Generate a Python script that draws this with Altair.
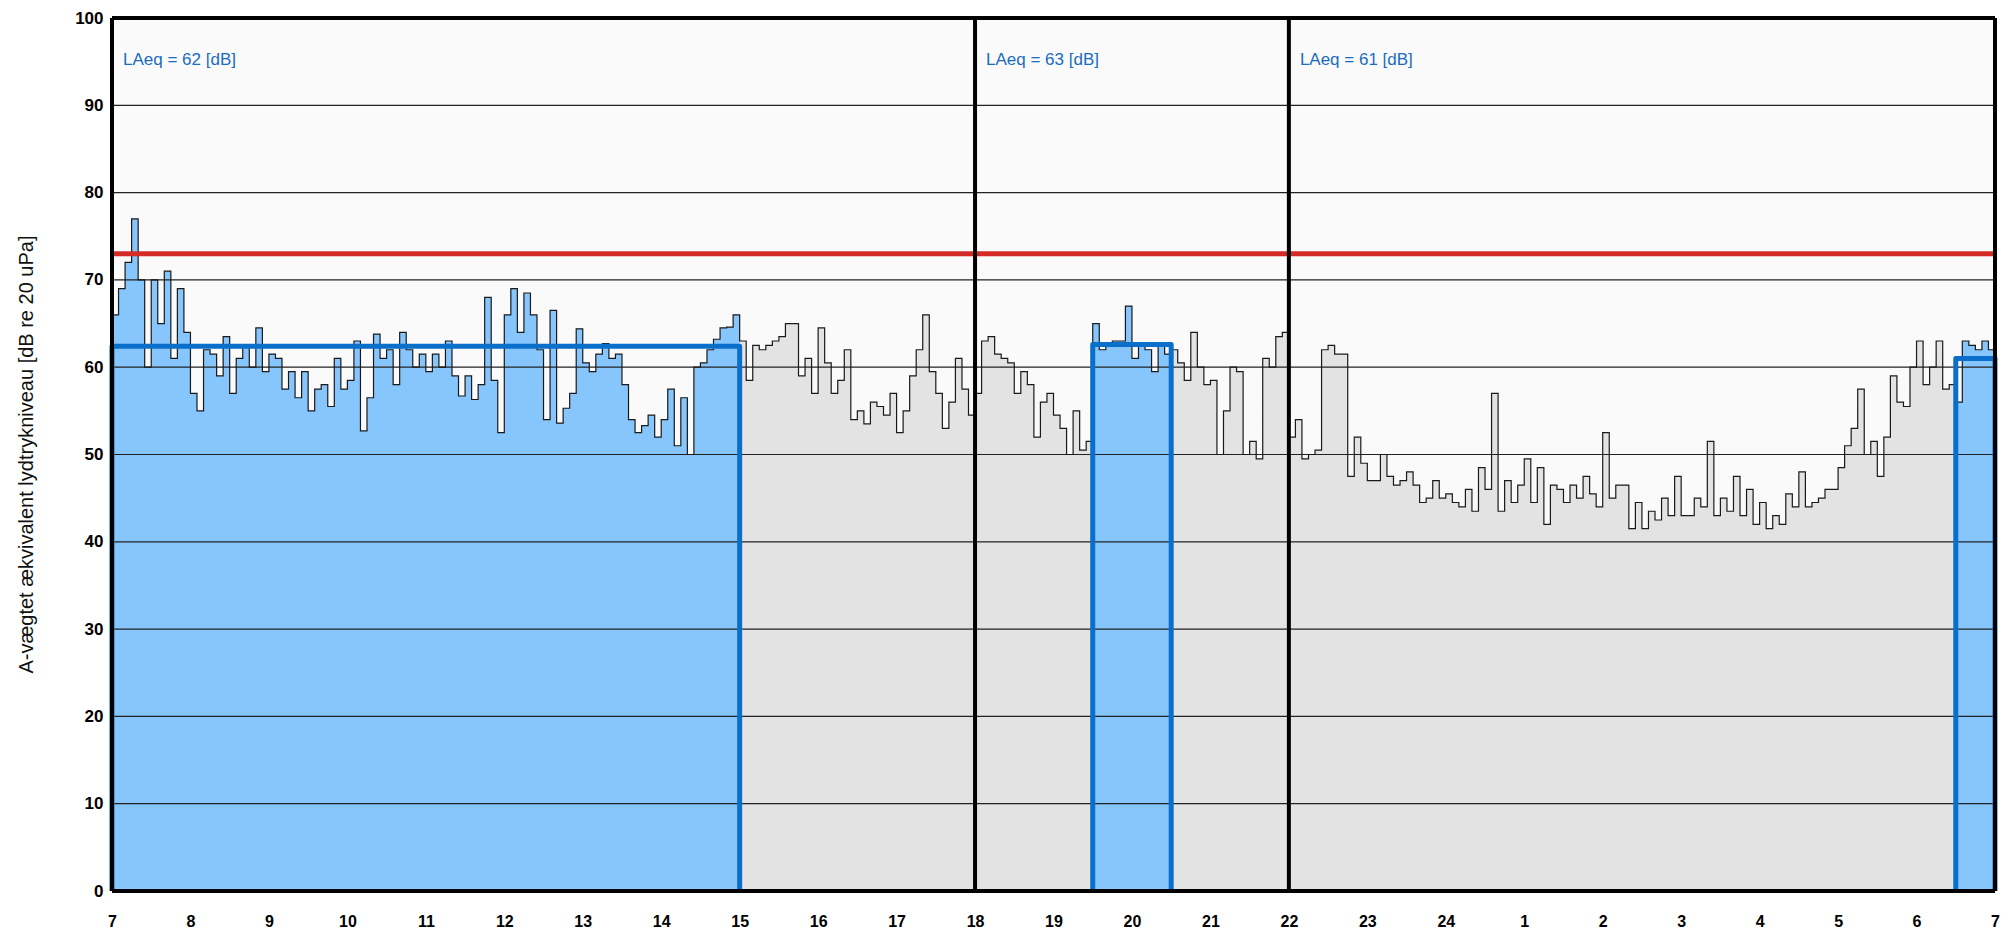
import altair as alt
import pandas as pd

# 5-minute A-weighted levels from 07:00 to 07:00 next day
levels = [
    66, 69, 72, 77, 70, 60, 70, 65, 71, 61, 69, 64,
    57, 55, 62, 61.5, 59, 63.5, 57, 61, 62.5, 60, 64.5, 59.5,
    61.5, 61, 57.5, 59.5, 56.5, 59.5, 55, 57.5, 58, 55.5, 61, 57.5,
    58.5, 63, 52.7, 56.5, 63.8,
    61, 62, 58, 64, 62, 60, 61.5,
    59.5, 61.5, 60, 63, 59, 56.7, 59, 56.3, 58, 68, 58.5, 52.5,
    66, 69, 64, 68.5, 66, 62, 54, 66.5, 53.6, 55.3, 57, 64.4,
    60.5, 59.5, 61.5, 62.7, 61, 61.5, 58, 54, 52.5, 53.3,
    54.5, 52, 54, 57.5, 51, 56.5, 50,
    60, 60.5, 62, 63.2, 64.5, 64.6, 66,
    63, 58.5, 62.5, 62, 62.5, 63, 63.5, 65, 65, 59, 61, 57,
    64.5, 60.5, 57, 58.5, 62, 54, 55, 53.5, 56, 55.5, 54.5, 57,
    52.5, 55, 59, 62,
    66, 59.5, 57, 53, 56, 61, 57.5, 54.5,
    57, 63, 63.5, 61.5, 61, 60.5, 57, 59.5, 58, 52, 56, 57,
    54.5, 53, 50, 55, 50.5, 51.5,
    65, 62, 62.5, 63, 63, 67, 61, 62.5, 62, 59.5, 62.5, 61.5, 62, 60.5, 58.5,
    64, 60, 58, 58.5, 50, 55, 60, 59.5, 50, 51.5, 49.5, 61, 60, 63.5, 64,
    52, 54, 49.5, 50, 50.5, 62, 62.5, 61.5, 61.5, 47.5, 52, 49,
    47, 47, 50, 47.5, 46.5, 47, 48, 46.5, 44.5, 45, 47, 45, 45.5, 44.5,
    44, 46, 43.5, 48.5, 46, 57, 43.5, 47, 44.5, 46.5,
    49.5, 44.5, 48.5, 42, 46.5, 46, 44.5, 46.5, 45, 47.5, 45.5, 44,
    52.5, 45, 46.5, 46.5, 41.5, 44.5, 41.5, 43.5, 42.5, 45, 43, 47.5,
    43, 43, 45, 44, 51.5, 43, 45,
    43.5, 47.5, 43, 46, 42, 44.5, 41.5, 43, 42, 45.5, 44, 48,
    44, 44.5, 45, 46, 46, 48.5, 51, 53, 57.5, 50, 51.5, 47.5,
    52, 59, 56, 55.5, 60, 63, 58, 60, 63, 57.5, 58, 56,
    63, 62.5, 62, 63, 62,
]

start_hour = 7
end_hour = 31
period_start = [7, 19.5, 30.5]
period_end = [15, 20.5, 31]
period_laeq = [62.4, 62.6, 61.0]
label_hour = [7, 18, 22]
label_text = ["LAeq = 62 [dB]", "LAeq = 63 [dB]", "LAeq = 61 [dB]"]
limit_level = [73]
divider_hours = [18, 22]
grid_levels = [10, 20, 30, 40, 50, 60, 70, 80, 90]
x_ticks = list(range(7, 32))
y_ticks = list(range(0, 101, 10))

FONT = "Liberation Sans"
step = (end_hour - start_hour) / len(levels)
hours = [start_hour + i * step for i in range(len(levels))]

series = pd.DataFrame({"hour": hours + [end_hour], "level": levels + [levels[-1]]})


def period_frame(a, b):
    rows = []
    last = None
    for h, v in zip(hours, levels):
        if a - 1e-9 <= h < b - 1e-9:
            rows.append({"hour": h, "level": v})
            last = v
    rows.append({"hour": b, "level": last})
    return pd.DataFrame(rows)


# outline of each LAeq period
orows = []
for k, (a, b, L) in enumerate(zip(period_start, period_end, period_laeq)):
    for o, (h, v) in enumerate([(a, 0), (a, L), (b, L), (b, 0)]):
        orows.append({"hour": h, "level": v, "seg": k, "ord": o})
outline_df = pd.DataFrame(orows)

labels_df = pd.DataFrame({"hour": label_hour, "text": label_text, "level": [95.2] * 3})

xscale = alt.Scale(domain=[start_hour, end_hour], nice=False, zero=False)
yscale = alt.Scale(domain=[0, 100], nice=False)

x_axis = alt.Axis(
    values=x_ticks, labelExpr="datum.value > 24 ? datum.value - 24 : datum.value",
    grid=False, ticks=False, domain=False, title=None, labelFont=FONT,
    labelFontSize=16, labelFontWeight="bold", labelColor="#000", labelPadding=22,
    labelFlush=False, labelOverlap=False,
)
y_axis = alt.Axis(
    values=y_ticks, grid=False, ticks=False, domain=False, labelFont=FONT,
    labelFontSize=17, labelFontWeight="bold", labelColor="#000", labelPadding=9,
    title="A-vægtet ækvivalent lydtrykniveau [dB re 20 uPa]", titleFont=FONT,
    titleFontSize=20, titleFontWeight="normal", titleColor="#111",
    titleX=-86, titleY=436, titleAngle=270, titleAlign="center", titleBaseline="middle",
)

X = alt.X("hour:Q", scale=xscale, axis=x_axis)
Y = alt.Y("level:Q", scale=yscale, axis=y_axis, stack=None)
Xp = alt.X("hour:Q", scale=xscale)
Yp = alt.Y("level:Q", scale=yscale, stack=None)

gray_area = alt.Chart(series).mark_area(interpolate="step-after", color="#e3e3e3").encode(X, Y)
blue_areas = [
    alt.Chart(period_frame(a, b)).mark_area(interpolate="step-after", color="#86c6fd").encode(Xp, Yp)
    for a, b in zip(period_start, period_end)
]

grid = alt.Chart(pd.DataFrame({"g": grid_levels})).mark_rule(color="#222", strokeWidth=1.2).encode(
    y=alt.Y("g:Q", scale=yscale))

data_line = alt.Chart(series).mark_line(interpolate="step-after", color="#1a1a1a", strokeWidth=1.2).encode(Xp, Yp)

outline = alt.Chart(outline_df).mark_line(color="#0a6fca", strokeWidth=5, strokeJoin="round").encode(
    Xp, Yp, detail="seg:N", order="ord:Q")

limit = alt.Chart(pd.DataFrame({"v": limit_level})).mark_rule(color="#d42b27", strokeWidth=5).encode(
    y=alt.Y("v:Q", scale=yscale))

dividers = alt.Chart(pd.DataFrame({"h": divider_hours})).mark_rule(color="#000", strokeWidth=4).encode(
    x=alt.X("h:Q", scale=xscale))

border_v = alt.Chart(pd.DataFrame({"h": [start_hour, end_hour]})).mark_rule(color="#000", strokeWidth=4).encode(
    x=alt.X("h:Q", scale=xscale))
border_h = alt.Chart(pd.DataFrame({"v": [0, 100]})).mark_rule(color="#000", strokeWidth=4).encode(
    y=alt.Y("v:Q", scale=yscale))

texts = alt.Chart(labels_df).mark_text(
    align="left", baseline="middle", dx=11, font=FONT, fontSize=17, color="#1a6cbf").encode(
    Xp, Yp, text="text:N")

chart = alt.layer(
    gray_area, *blue_areas, grid, data_line, outline, limit, dividers, border_v, border_h, texts
).properties(
    width=1883, height=873,
    autosize=alt.AutoSizeParams(type="none"),
    padding={"left": 104, "top": 10, "right": 10, "bottom": 40},
    background="#ffffff",
).configure_view(fill="#fafafa", stroke=None)

chart.save("out.html", embed_options={"renderer": "svg", "actions": False})
